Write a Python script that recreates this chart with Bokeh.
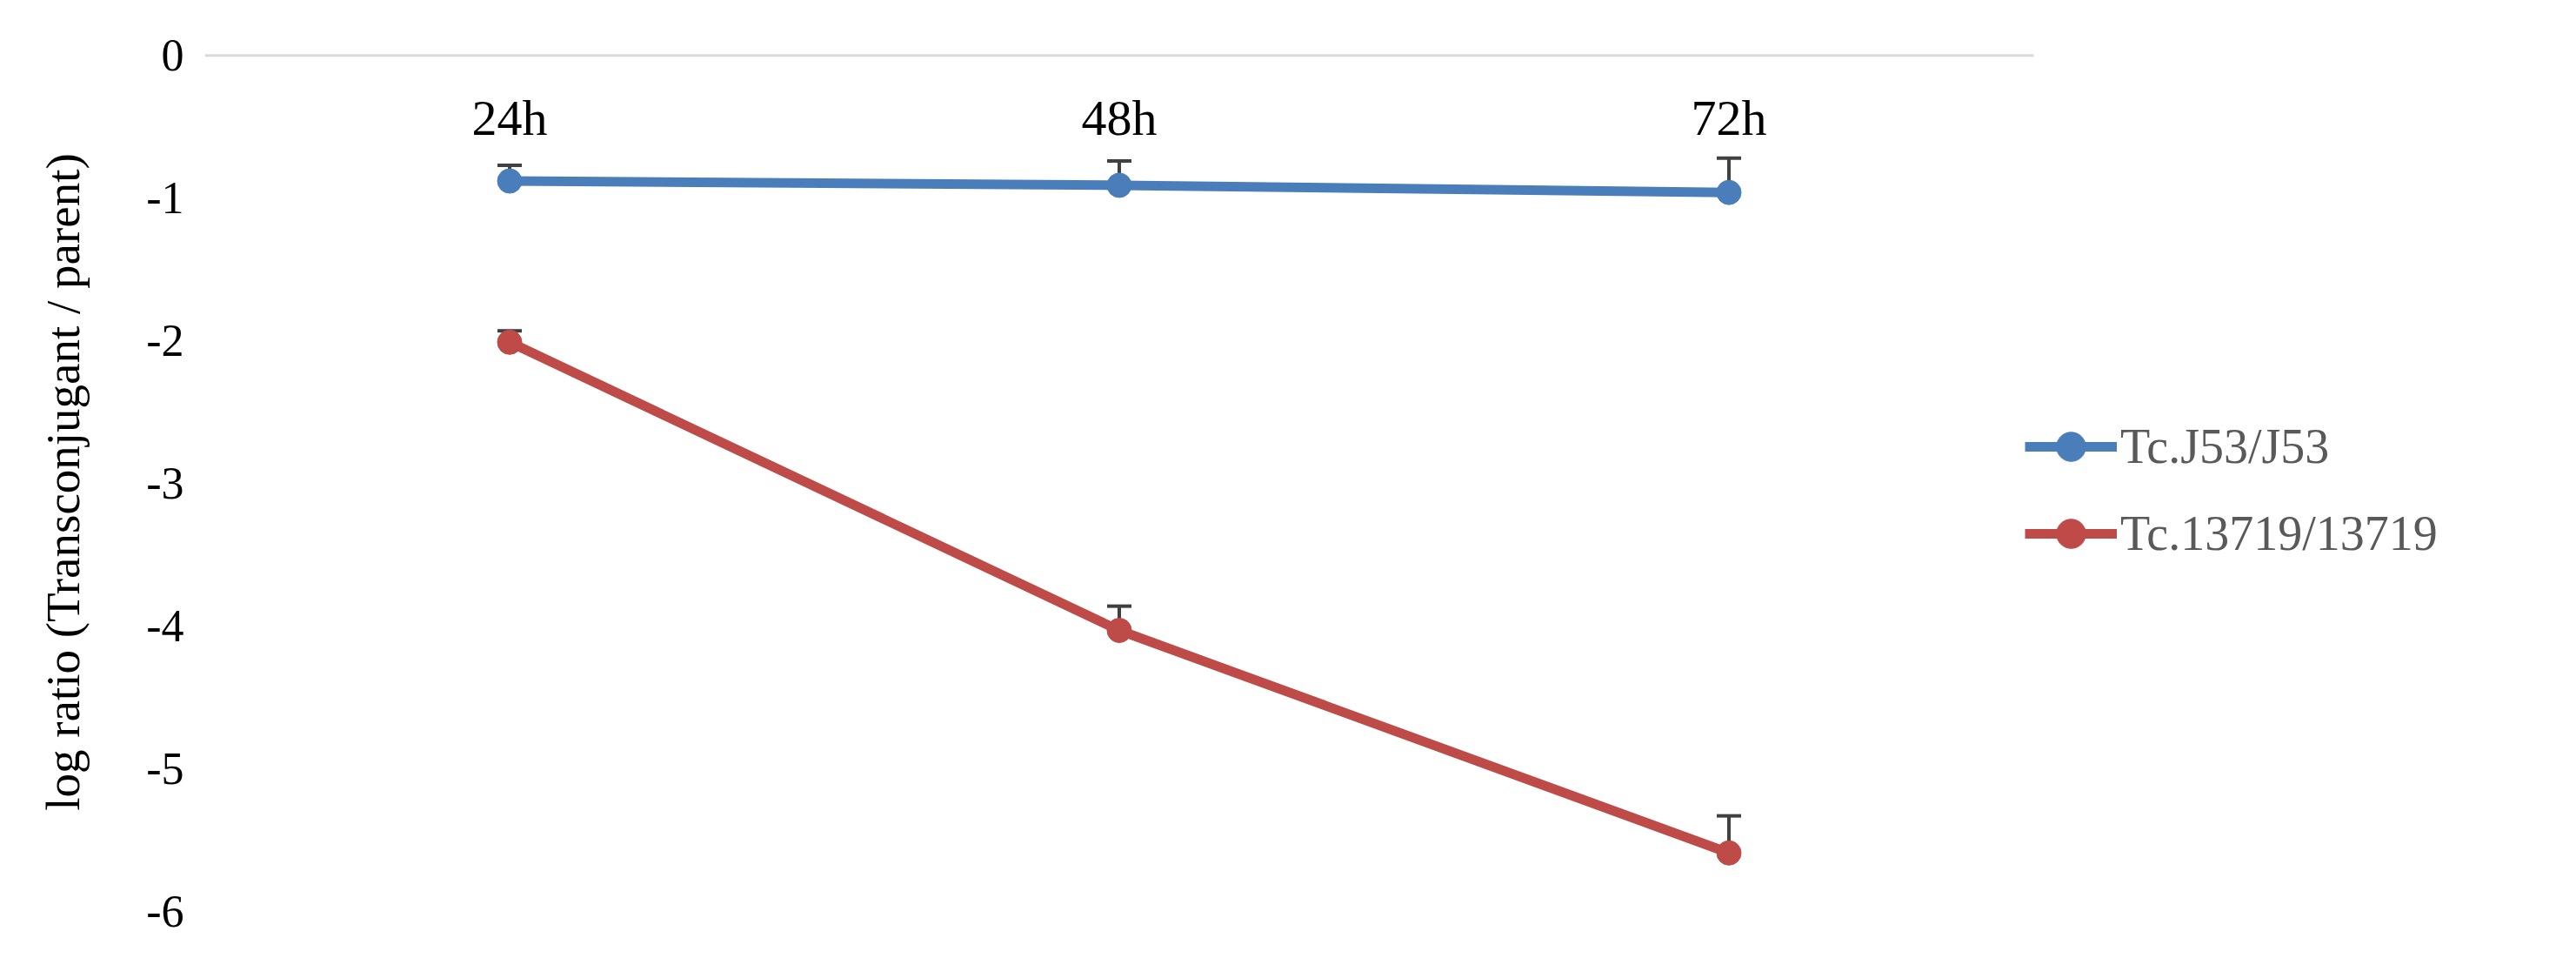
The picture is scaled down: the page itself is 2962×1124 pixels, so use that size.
from bokeh.plotting import figure
from bokeh.models import (Range1d, FixedTicker, Whisker, ColumnDataSource,
                          Legend, LegendItem, TeeHead)
from bokeh.embed import file_html
from bokeh.resources import INLINE
from bokeh.core.properties import value

# ---- data ----
categories = ["24h", "48h", "72h"]
series_names = ["Tc.J53/J53", "Tc.13719/13719"]
j53_mean = [-0.88, -0.91, -0.96]
j53_err = [0.11, 0.17, 0.24]
c13719_mean = [-2.01, -4.03, -5.59]
c13719_err = [0.08, 0.17, 0.26]
y_ticks = [0, -1, -2, -3, -4, -5, -6]
y_tick_labels = ["0", "-1", "-2", "-3", "-4", "-5", "-6"]
y_axis_title = "log ratio (Transconjugant / parent)"
axis_cross = 0

# ---- layout / style ----
FONT = "Liberation Serif"
BLUE = "#4A7EBB"
RED = "#BE4B48"
ERR = "#404040"
W, H = 2946, 1108
LEFT = 235
CAT_PX = 701                      # pixel width of one category slot
frame_w = W - LEFT
xpos = list(range(len(categories)))
x_start = -0.5
x_end = x_start + frame_w / CAT_PX

p = figure(width=W, height=H,
           x_range=Range1d(x_start, x_end),
           y_range=Range1d(-6, 0.02),
           output_backend="svg", toolbar_location=None,
           min_border_left=LEFT, min_border_right=0,
           min_border_top=60, min_border_bottom=61)
p.outline_line_color = None
p.background_fill_color = "white"
p.border_fill_color = "white"

p.xaxis.visible = False
p.xgrid.grid_line_color = None
p.ygrid.grid_line_color = None

# horizontal axis line at 0 spanning the category area
p.segment(x0=[xpos[0] - 0.5], x1=[xpos[-1] + 0.5], y0=[axis_cross], y1=[axis_cross],
          line_color="#D9D9D9", line_width=3)

ya = p.yaxis[0]
ya.ticker = FixedTicker(ticks=y_ticks)
ya.major_label_overrides = {t: l for t, l in zip(y_ticks, y_tick_labels)}
ya.axis_line_color = None
ya.major_tick_line_color = None
ya.minor_tick_line_color = None
ya.major_tick_out = 0
ya.major_tick_in = 0
ya.major_label_text_font = FONT
ya.major_label_text_font_size = "52px"
ya.major_label_text_color = "#000000"
ya.major_label_standoff = 24
ya.axis_label = y_axis_title
ya.axis_label_text_font = FONT
ya.axis_label_text_font_size = "55px"
ya.axis_label_text_font_style = "normal"
ya.axis_label_text_color = "#000000"
ya.axis_label_standoff = 62

items = []
for name, mean, err, col in [(series_names[0], j53_mean, j53_err, BLUE),
                             (series_names[1], c13719_mean, c13719_err, RED)]:
    src = ColumnDataSource(dict(x=xpos, y=mean,
                                upper=[m + e for m, e in zip(mean, err)]))
    w = Whisker(base="x", lower="y", upper="upper", source=src, dimension="height",
                lower_head=None,
                upper_head=TeeHead(size=28, line_color=ERR, line_width=4),
                line_color=ERR, line_width=4, level="underlay")
    p.add_layout(w)
    ln = p.line(x="x", y="y", source=src, line_color=col, line_width=11)
    sc = p.scatter(x="x", y="y", source=src, size=28, fill_color=col, line_color=col)
    items.append(LegendItem(label=name, renderers=[ln, sc]))

# category labels just under the horizontal axis line
lab_src = ColumnDataSource(dict(x=xpos, y=[axis_cross] * len(categories), t=categories))
p.text(x="x", y="y", text="t", source=lab_src, text_font=value(FONT),
       text_font_size="58px", text_color="#000000", text_align="center",
       text_baseline="middle", y_offset=72)

legend = Legend(items=items, location=(2093, 392), orientation="vertical",
                glyph_width=106, glyph_height=84, label_height=84, spacing=16,
                label_standoff=4, padding=0, margin=0,
                border_line_color=None, background_fill_alpha=0,
                label_text_font=FONT, label_text_font_size="56px",
                label_text_color="#595959")
p.add_layout(legend, "center")

open("out.html", "w").write(file_html(p, INLINE))
